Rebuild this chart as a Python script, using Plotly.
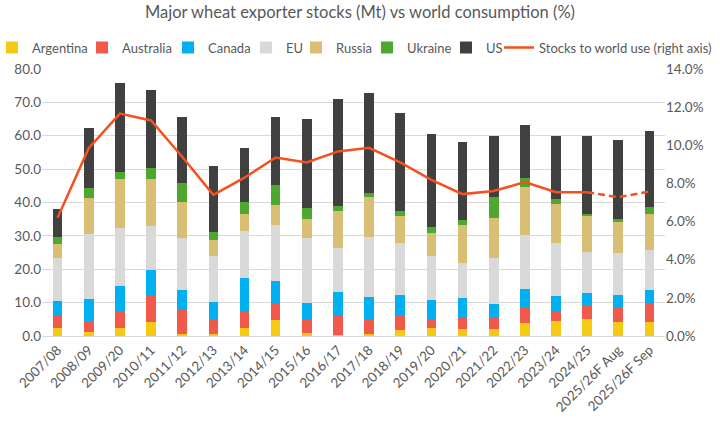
import plotly.graph_objects as go

categories = ["2007/08", "2008/09", "2009/20", "2010/11", "2011/12", "2012/13", "2013/14",
              "2014/15", "2015/16", "2016/17", "2017/18", "2018/19", "2019/20", "2020/21",
              "2021/22", "2022/23", "2023/24", "2024/25", "2025/26F Aug", "2025/26F Sep"]

# cumulative tops (Mt)
cum_argentina = [2.5, 1.3, 2.5, 4.1, 0.7, 0.5, 2.5, 4.8, 1.0, 0.3, 0.5, 1.7, 2.5, 2.1, 2.0, 4.0, 4.6, 5.1, 4.3, 4.3]
cum_australia = [6.0, 4.3, 7.5, 12.3, 7.8, 5.1, 7.1, 9.5, 4.7, 6.0, 5.1, 6.4, 5.1, 5.3, 5.3, 8.3, 7.4, 9.2, 8.7, 9.5]
cum_canada = [10.5, 11.0, 15.1, 19.7, 13.8, 10.2, 17.5, 16.6, 10.0, 13.1, 11.8, 12.4, 10.8, 11.3, 9.7, 14.1, 12.1, 12.8, 12.3, 13.8]
cum_eu = [23.3, 30.5, 32.3, 33.0, 29.3, 23.9, 31.6, 33.3, 29.5, 26.4, 29.7, 28.0, 23.9, 22.0, 23.3, 30.2, 28.0, 25.1, 24.8, 25.7]
cum_russia = [27.6, 41.3, 46.9, 46.9, 40.3, 28.7, 36.7, 39.4, 35.1, 37.4, 41.5, 35.9, 31.0, 33.3, 35.3, 44.6, 39.5, 35.9, 34.1, 36.7]
cum_ukraine = [29.7, 44.3, 49.2, 50.2, 45.7, 31.3, 40.3, 45.1, 38.4, 39.0, 42.9, 37.5, 32.6, 34.9, 41.5, 47.4, 41.1, 36.6, 35.1, 38.7]
cum_us = [38.0, 62.3, 75.9, 73.7, 65.7, 50.8, 56.4, 65.6, 64.9, 71.1, 72.8, 66.7, 60.5, 58.0, 59.8, 63.1, 59.8, 59.8, 58.7, 61.5]

stocks_to_use = [0.062, 0.0985, 0.1166, 0.113, 0.094, 0.074, 0.083, 0.0936, 0.091, 0.0968, 0.0987,
                 0.091, 0.0819, 0.0744, 0.076, 0.0807, 0.0754, 0.0754, 0.0728, 0.0758]

def diff(top, below):
    return [round(t - b, 2) for t, b in zip(top, below)]

series = [
    ("Argentina", cum_argentina, "#F6C913"),
    ("Australia", diff(cum_australia, cum_argentina), "#F15A4B"),
    ("Canada", diff(cum_canada, cum_australia), "#00B0F0"),
    ("EU", diff(cum_eu, cum_canada), "#D9D9D9"),
    ("Russia", diff(cum_russia, cum_eu), "#D9BF73"),
    ("Ukraine", diff(cum_ukraine, cum_russia), "#4EA72E"),
    ("US", diff(cum_us, cum_ukraine), "#404040"),
]

# legend text start positions (px) for each legend entry
legend_text_px = [32, 122, 208, 286, 336, 407, 486, 539]

L, R, T, B, W, H = 42, 55, 69, 85, 720, 421
plot_w = W - L - R
plot_h = H - T - B

fig = go.Figure()
legend_names = ["legend"] + ["legend%d" % i for i in range(2, 9)]
for i, (name, vals, col) in enumerate(series):
    fig.add_trace(go.Bar(x=categories, y=vals, name=name, marker=dict(color=col, line=dict(width=0)),
                         yaxis="y", legend=legend_names[i]))

line_col = "#F4511E"
n_solid = 18
fig.add_trace(go.Scatter(x=categories[:n_solid], y=stocks_to_use[:n_solid], mode="lines",
                         name="Stocks to world use (right axis)", yaxis="y2", legend=legend_names[7],
                         line=dict(color=line_col, width=2.5)))
fig.add_trace(go.Scatter(x=categories[n_solid - 1:], y=stocks_to_use[n_solid - 1:], mode="lines",
                         name="Stocks to world use (forecast)", yaxis="y2", showlegend=False,
                         line=dict(color=line_col, width=2.5, dash="7px,4px")))

txt = "#595959"
legend_y = 1 + (T - 47.5) / plot_h
legends = {}
for i, ln in enumerate(legend_names):
    legends[ln] = dict(orientation="h", x=(legend_text_px[i] - 40 - L) / plot_w, xanchor="left",
                       y=legend_y, yanchor="middle", font=dict(size=13, color=txt),
                       itemwidth=30, bgcolor="rgba(0,0,0,0)", borderwidth=0)

fig.update_layout(
    width=W, height=H,
    barmode="stack", bargap=0.69,
    font=dict(family="Lato, Open Sans, sans-serif", size=13, color=txt),
    title=dict(text="Major wheat exporter stocks (Mt) vs world consumption (%)",
               x=0.5, xanchor="center", y=0.97, yanchor="middle",
               font=dict(size=16.5, color=txt)),
    margin=dict(l=L, r=R, t=T, b=B, autoexpand=False),
    plot_bgcolor="white", paper_bgcolor="white",
    xaxis=dict(tickangle=-45, tickfont=dict(size=13.5, color=txt), showgrid=False,
               showline=True, linecolor="#D9D9D9", ticks="", automargin=False),
    yaxis=dict(range=[0, 80], dtick=10, tickformat=".1f", showgrid=True, gridcolor="#D9D9D9",
               zeroline=False, tickfont=dict(size=13.5, color=txt), automargin=False),
    yaxis2=dict(range=[0, 0.14], dtick=0.02, tickformat=".1%", overlaying="y", side="right",
                showgrid=False, zeroline=False, tickfont=dict(size=13.5, color=txt), automargin=False),
    **legends,
)

fig.write_html("out.html")
